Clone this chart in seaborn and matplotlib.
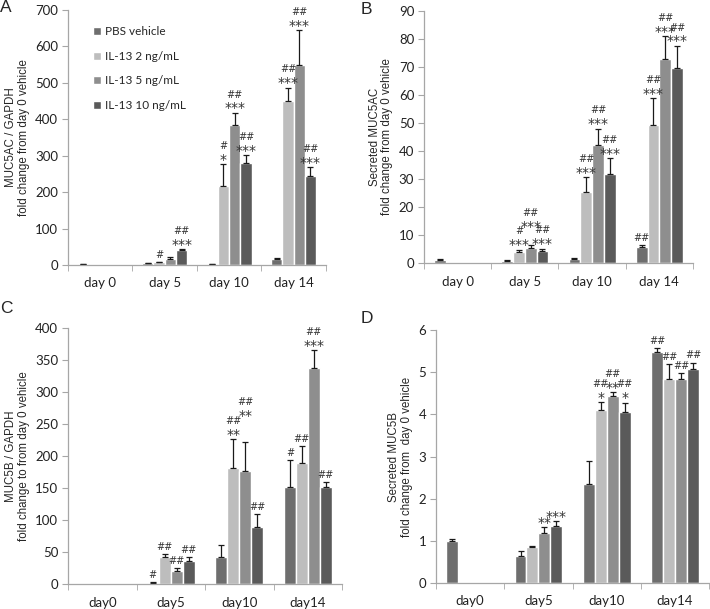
import pandas as pd
import seaborn as sns
import matplotlib.pyplot as plt
import numpy as np

# Categories
groups = ["PBS vehicle", "IL-13 2 ng/mL", "IL-13 5 ng/mL", "IL-13 10 ng/mL"]
days_ab = ["day 0", "day 5", "day 10", "day 14"]
days_cd = ["day0", "day5", "day10", "day14"]
colors = ["#6e6e6e", "#bdbdbd", "#8e8e8e", "#5a5a5a"]

# Panel A: MUC5AC / GAPDH (rows = groups, cols = days)
a_mean = [[3, 5, 3, 17], [0, 8, 217, 450], [0, 17, 385, 550], [0, 42, 280, 244]]
a_err = [[1, 1, 1, 3], [0, 1, 60, 37], [0, 6, 33, 95], [0, 2, 22, 24]]
a_stars = [["", "", "", ""], ["", "", "*", "***"], ["", "", "***", "***"], ["", "***", "***", "***"]]
a_hash = [["", "", "", ""], ["", "#", "#", "##"], ["", "", "##", "##"], ["", "##", "##", "##"]]

# Panel B: secreted MUC5AC
b_mean = [[1.0, 0.8, 1.5, 5.8], [0, 4.0, 25.3, 49.3], [0, 5.5, 42.3, 73.0], [0, 4.4, 31.8, 69.7]]
b_err = [[0.3, 0.2, 0.3, 0.6], [0, 0.8, 5.3, 9.7], [0, 0.8, 5.7, 8.0], [0, 0.8, 5.8, 7.9]]
b_stars = [["", "", "", ""], ["", "***", "***", "***"], ["", "***", "***", "***"], ["", "***", "***", "***"]]
b_hash = [["", "", "", "##"], ["", "#", "##", "##"], ["", "##", "##", "##"], ["", "##", "##", "##"]]

# Panel C: MUC5B / GAPDH
c_mean = [[0.5, 2, 42, 152], [0, 42, 182, 189], [0, 21, 177, 338], [0, 36, 89, 151]]
c_err = [[0, 1, 19, 41], [0, 5, 45, 27], [0, 4, 45, 27], [0, 6, 20, 9]]
c_stars = [["", "", "", ""], ["", "", "**", ""], ["", "", "**", "***"], ["", "", "", ""]]
c_hash = [["", "#", "", "#"], ["", "##", "##", "##"], ["", "##", "##", "##"], ["", "##", "##", "##"]]

# Panel D: secreted MUC5B
d_mean = [[1.0, 0.65, 2.35, 5.47], [0, 0.85, 4.10, 4.85], [0, 1.18, 4.43, 4.85], [0, 1.35, 4.05, 5.07]]
d_err = [[0.05, 0.10, 0.55, 0.10], [0, 0.02, 0.20, 0.35], [0, 0.14, 0.09, 0.12], [0, 0.11, 0.23, 0.16]]
d_stars = [["", "", "", ""], ["", "", "*", ""], ["", "**", "**", ""], ["", "***", "*", ""]]
d_hash = [["", "", "", "##"], ["", "", "##", "##"], ["", "", "##", "##"], ["", "", "##", "##"]]

sns.set_style("white")
plt.rcParams["font.family"] = ["Lato", "DejaVu Sans"]
plt.rcParams["axes.linewidth"] = 0.9

fig = plt.figure(figsize=(7.1, 6.09), dpi=100)
ax_a = fig.add_axes([0.0958, 0.5649, 0.363, 0.4187])
ax_b = fig.add_axes([0.597, 0.568, 0.379, 0.414])
ax_c = fig.add_axes([0.0958, 0.041, 0.386, 0.4204])
ax_d = fig.add_axes([0.614, 0.0427, 0.385, 0.4153])

STAR_H = 7.0   # points taken by a row of stars
CLASH = 6.0    # stacks closer than this (points) get staggered
LIFT = 13.0    # how far a clashing stack is lifted


def panel(ax, days, mean, err, stars, hashes, ymax, ystep, ylabel, legend=False):
    rows = []
    for g, grp in enumerate(groups):
        for d, day in enumerate(days):
            rows.append({"day": day, "group": grp, "value": mean[g][d]})
    df = pd.DataFrame(rows)
    sns.barplot(data=df, x="day", y="value", hue="group", order=days, hue_order=groups,
                palette=colors, width=0.7, errorbar=None, saturation=1, ax=ax,
                legend=legend)
    ax.set_ylim(0, ymax)
    ax.set_xlim(-0.5, 3.5)

    # points per data unit on the y axis
    h_pts = ax.get_position().height * fig.get_figheight() * 72
    pts_per_unit = h_pts / ymax

    bar_conts = list(ax.containers)
    for d in range(len(days)):
        prev_base = None
        for g, cont in enumerate(bar_conts):
            p = cont.patches[d]
            x = p.get_x() + p.get_width() / 2
            top = mean[g][d]
            if err[g][d] > 0:
                ax.errorbar(x, top, yerr=[[0], [err[g][d]]], fmt="none", ecolor="#1a1a1a",
                            elinewidth=0.9, capsize=2.5, capthick=0.9)
            ytop = top + err[g][d]
            if not stars[g][d] and not hashes[g][d]:
                prev_base = None
                continue
            # base of the annotation stack, in points above the bar top
            base_abs = ytop * pts_per_unit + 1.5
            if stars[g][d] and prev_base is not None and abs(base_abs - prev_base) < CLASH:
                base_abs = prev_base + LIFT
            off = base_abs - ytop * pts_per_unit
            if stars[g][d]:
                ax.annotate(stars[g][d], (x, ytop), xytext=(0, off - 3.5), textcoords="offset points",
                            ha="center", va="bottom", fontsize=10, color="#333333",
                            family=["DejaVu Sans"])
                off += STAR_H + 1
            if hashes[g][d]:
                ax.annotate(hashes[g][d], (x, ytop), xytext=(0, off), textcoords="offset points",
                            ha="center", va="bottom", fontsize=7, color="#333333",
                            family=["DejaVu Sans"])
            # only a stack topped by hashes pushes its right neighbour up
            prev_base = base_abs if (stars[g][d] and hashes[g][d]) else None

    ax.set_yticks(np.arange(0, ymax + ystep / 2, ystep))
    ax.set_xlabel("")
    ax.set_ylabel(ylabel, fontsize=8.3, family=["Liberation Sans"], labelpad=4, linespacing=1.05)
    for s in ["top", "right"]:
        ax.spines[s].set_visible(False)
    for s in ["left", "bottom"]:
        ax.spines[s].set_color("#a6a6a6")
    ax.tick_params(axis="y", which="major", length=4, color="#a6a6a6", labelsize=9.5,
                   labelcolor="#222222", pad=3, left=True)
    ax.tick_params(axis="x", which="major", length=0, labelsize=9.5, labelcolor="#222222", pad=9)
    ax.set_xticks([-0.5, 0.5, 1.5, 2.5, 3.5], minor=True)
    ax.tick_params(axis="x", which="minor", length=4, color="#a6a6a6", bottom=True)
    if legend:
        ax.legend(frameon=False, loc="upper left", bbox_to_anchor=(0.08, 0.955),
                  handlelength=0.65, handleheight=0.65, handletextpad=0.3,
                  labelspacing=1.15, fontsize=8.5, borderaxespad=0)


panel(ax_a, days_ab, a_mean, a_err, a_stars, a_hash, 700, 100,
      "MUC5AC / GAPDH\nfold change from day 0 vehicle", legend=True)
panel(ax_b, days_ab, b_mean, b_err, b_stars, b_hash, 90, 10,
      "Secreted MUC5AC\nfold change from day 0 vehicle")
panel(ax_c, days_cd, c_mean, c_err, c_stars, c_hash, 400, 50,
      "MUC5B / GAPDH\nfold change to from day 0 vehicle")
panel(ax_d, days_cd, d_mean, d_err, d_stars, d_hash, 6, 1,
      "Secreted MUC5B\nfold change from  day 0 vehicle")

# panel letters
for letter, (fx, fy) in zip("ABCD", [(0.0, 1.0), (0.508, 0.997), (0.0, 0.505), (0.508, 0.49)]):
    fig.text(fx, fy, letter, fontsize=12.5, family=["Liberation Sans"], va="top", ha="left")

fig.savefig("out.png", dpi=100)
